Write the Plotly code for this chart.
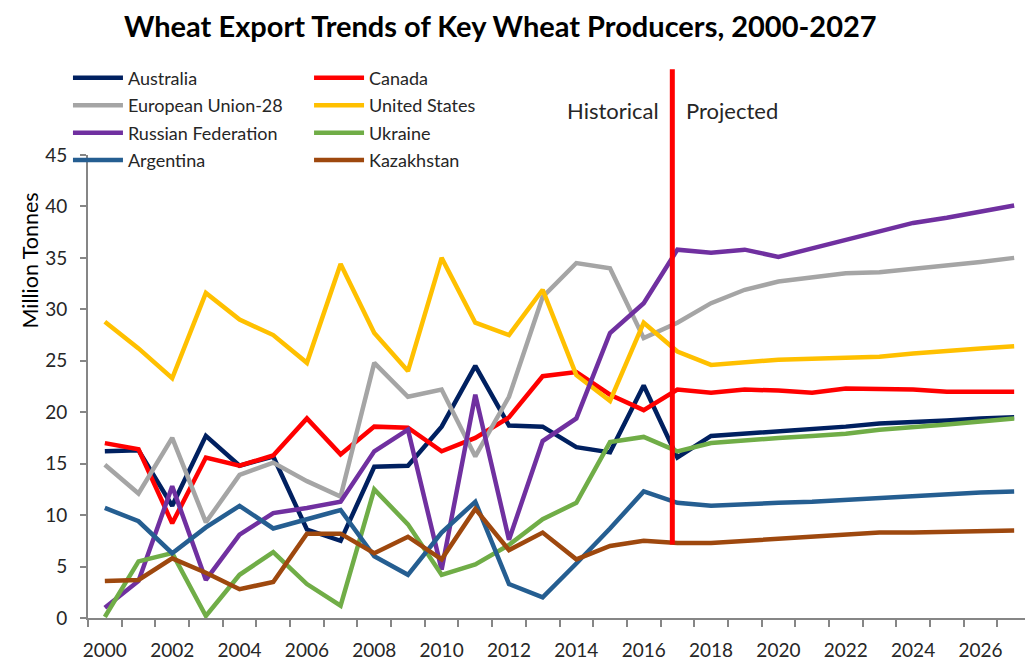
import plotly.graph_objects as go

years = list(range(2000, 2028))

australia = [16.2, 16.3, 10.9, 17.7, 14.8, 15.7, 8.6, 7.5, 14.7, 14.8, 18.6, 24.5, 18.7, 18.6,
             16.6, 16.1, 22.6, 15.6, 17.7, 17.9, 18.1, 18.3, 18.6, 18.9, 19.0, 19.2, 19.4, 19.5]
canada = [17.0, 16.4, 9.2, 15.6, 14.8, 15.8, 19.4, 15.9, 18.6, 18.5, 16.2, 17.5, 19.5, 23.5,
          23.9, 21.7, 20.2, 22.2, 21.9, 22.2, 22.1, 21.9, 22.3, 22.3, 22.2, 22.0, 22.0, 22.0]
eu28 = [14.9, 12.1, 17.5, 9.3, 13.9, 15.1, 13.3, 11.8, 24.8, 21.5, 22.2, 15.7, 21.5, 31.2,
        34.5, 34.0, 27.2, 28.7, 30.6, 31.9, 32.7, 33.1, 33.5, 33.6, 33.9, 34.3, 34.6, 35.0]
united_states = [28.8, 26.2, 23.3, 31.6, 29.0, 27.5, 24.8, 34.4, 27.7, 24.0, 35.0, 28.7, 27.5, 31.9,
                 23.6, 21.1, 28.7, 25.9, 24.6, 24.9, 25.1, 25.2, 25.3, 25.4, 25.7, 26.0, 26.2, 26.4]
russia = [1.0, 3.6, 12.8, 3.7, 8.1, 10.2, 10.7, 11.3, 16.2, 18.3, 4.7, 21.7, 7.6, 17.2,
          19.4, 27.7, 30.6, 35.8, 35.5, 35.8, 35.1, 35.9, 36.8, 37.5, 38.4, 38.9, 39.5, 40.1]
ukraine = [0.1, 5.5, 6.3, 0.2, 4.2, 6.4, 3.3, 1.2, 12.5, 9.1, 4.2, 5.2, 7.1, 9.6,
           11.2, 17.1, 17.6, 16.2, 17.0, 17.3, 17.5, 17.7, 17.9, 18.3, 18.5, 18.8, 19.1, 19.4]
argentina = [10.7, 9.4, 6.3, 8.8, 10.9, 8.7, 9.6, 10.5, 6.0, 4.2, 8.3, 11.3, 3.3, 2.0,
             5.3, 8.7, 12.3, 11.2, 10.9, 11.1, 11.2, 11.3, 11.5, 11.6, 11.9, 12.0, 12.2, 12.3]
kazakhstan = [3.6, 3.7, 5.8, 4.4, 2.8, 3.5, 8.2, 8.2, 6.3, 7.9, 5.7, 10.6, 6.6, 8.3,
              5.7, 7.0, 7.5, 7.3, 7.3, 7.5, 7.7, 7.9, 8.0, 8.3, 8.3, 8.4, 8.4, 8.5]

# name, values, colour, which legend column
series = [
    ("Australia", australia, "#002060", "legend"),
    ("Canada", canada, "#FF0000", "legend2"),
    ("European Union-28", eu28, "#A5A5A5", "legend"),
    ("United States", united_states, "#FFC000", "legend2"),
    ("Russian Federation", russia, "#7030A0", "legend"),
    ("Ukraine", ukraine, "#70AD47", "legend2"),
    ("Argentina", argentina, "#255E91", "legend"),
    ("Kazakhstan", kazakhstan, "#9E480E", "legend2"),
]

split_year = 2016.85
FONT = "Lato, 'Open Sans', sans-serif"

fig = go.Figure()
for name, values, color, legend in series:
    fig.add_trace(
        go.Scatter(
            x=years,
            y=values,
            mode="lines",
            name=name,
            legend=legend,
            legendgroup=name,
            line={"color": color, "width": 4.5},
        )
    )

# historical / projected divider
fig.add_shape(
    type="line",
    xref="x",
    yref="paper",
    x0=split_year,
    x1=split_year,
    y0=0.159,
    y1=1.185,
    line={"color": "#FF0000", "width": 5},
    layer="above",
)
fig.add_annotation(
    x=split_year, xref="x", y=1.097, yref="paper", xshift=-11,
    text="Historical", showarrow=False, xanchor="right", yanchor="middle",
    font={"size": 22, "color": "#262626"},
)
fig.add_annotation(
    x=split_year, xref="x", y=1.097, yref="paper", xshift=12,
    text="Projected", showarrow=False, xanchor="left", yanchor="middle",
    font={"size": 22, "color": "#262626"},
)
fig.add_annotation(
    x=-0.0615, xref="paper", y=0.772, yref="paper",
    text="Million Tonnes", showarrow=False, textangle=-90,
    xanchor="center", yanchor="middle",
    font={"size": 21.5, "color": "#000000"},
)
# chart title
fig.add_annotation(
    x=0.437, xref="paper", y=1.321, yref="paper",
    text="<b>Wheat Export Trends of Key Wheat Producers, 2000-2027</b>",
    showarrow=False, xanchor="center", yanchor="top",
    font={"size": 29, "color": "#000000"},
)

legend_style = dict(
    orientation="v",
    bgcolor="rgba(0,0,0,0)",
    font={"size": 18, "color": "#262626"},
    tracegroupgap=1,
    itemwidth=50,
    xref="container",
    yref="container",
    xanchor="left",
    yanchor="top",
    y=0.921,
)

# page has an 8px body margin, so the figure is sized to fit the window
fig.update_layout(
    width=1025,
    height=654,
    paper_bgcolor="white",
    plot_bgcolor="white",
    font={"family": FONT, "color": "#262626"},
    margin={"l": 80, "r": 2, "t": 147, "b": 44, "pad": 0, "autoexpand": False},
    legend={**legend_style, "x": 0.0585},
    legend2={**legend_style, "x": 0.2937},
    xaxis={
        "range": [1999.5, 2027.5],
        "tickvals": list(range(2000, 2028, 2)),
        "ticks": "",
        "ticklabelstandoff": 14,
        "showgrid": False,
        "zeroline": False,
        "showline": True,
        "linecolor": "#868686",
        "linewidth": 2,
        "tickfont": {"size": 19, "color": "#262626"},
        "minor": {"ticks": "outside", "tick0": 1999.5, "dtick": 1, "ticklen": 7,
                  "tickcolor": "#868686", "tickwidth": 2, "showgrid": False},
    },
    yaxis={
        "range": [0, 45],
        "dtick": 5,
        "ticks": "outside",
        "ticklen": 6,
        "tickcolor": "#868686",
        "tickwidth": 2,
        "ticklabelstandoff": 9,
        "showgrid": False,
        "zeroline": False,
        "showline": True,
        "linecolor": "#868686",
        "linewidth": 2,
        "tickfont": {"size": 19, "color": "#262626"},
    },
)

fig.write_html("out.html")
